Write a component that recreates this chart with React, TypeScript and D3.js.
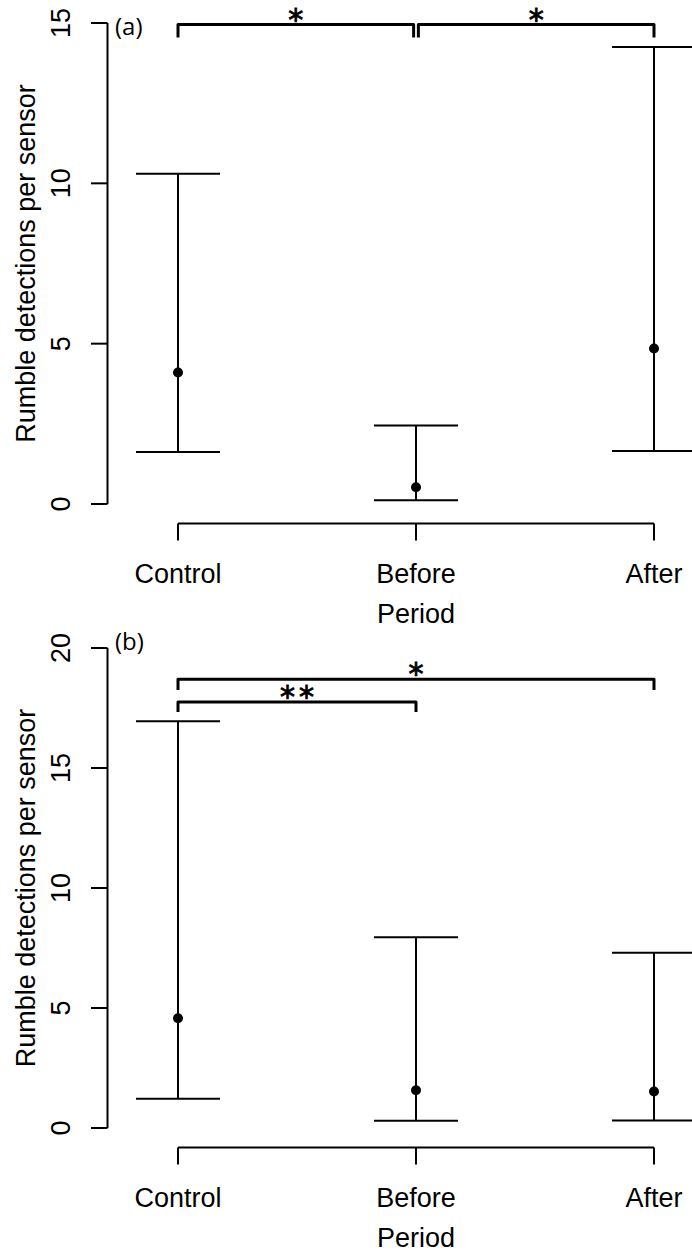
import React from "react";
import * as d3 from "d3";

const periods = ["Control", "Before", "After"];

const meanA = [4.1, 0.52, 4.85];
const lowerA = [1.62, 0.12, 1.65];
const upperA = [10.3, 2.45, 14.25];
const ticksA = [0, 5, 10, 15];

const meanB = [4.57, 1.57, 1.52];
const lowerB = [1.22, 0.3, 0.31];
const upperB = [16.95, 7.95, 7.3];
const ticksB = [0, 5, 10, 15, 20];

const bracketsA = [
  { from: 0, to: 0.99, level: 14.95, drop: 0.4, label: "*" },
  { from: 1.01, to: 2, level: 14.95, drop: 0.4, label: "*" },
];
const bracketsB = [
  { from: 0, to: 2, level: 18.7, drop: 0.45, label: "*" },
  { from: 0, to: 1, level: 17.75, drop: 0.42, label: "**" },
];

const W = 692;
const H = 1254;
const SANS = "'Liberation Sans', Arial, Helvetica, sans-serif";
const ALT = "'Open Sans', 'Noto Sans', sans-serif";
const STAR = "'DejaVu Sans', sans-serif";

type PanelProps = {
  tag: string;
  mean: number[];
  lower: number[];
  upper: number[];
  ticks: number[];
  brackets: { from: number; to: number; level: number; drop: number; label: string }[];
  top: number;
  bottom: number;
  tagDy: number;
};

function Panel({ tag, mean, lower, upper, ticks, brackets, top, bottom, tagDy }: PanelProps) {
  const x = d3.scaleLinear().domain([0, periods.length - 1]).range([178, 654]);
  const y = d3.scaleLinear().domain([0, d3.max(ticks) as number]).range([bottom, top]);
  const axisX = 107.5;
  const capHalf = 42;
  const xAxisY = y(0) + 19.5;
  const bracketPath = (b: PanelProps["brackets"][number]) => {
    const p = d3.path();
    p.moveTo(x(b.from), y(b.level - b.drop));
    p.lineTo(x(b.from), y(b.level));
    p.lineTo(x(b.to), y(b.level));
    p.lineTo(x(b.to), y(b.level - b.drop));
    return p.toString();
  };
  const yMid = (y(0) + y(d3.max(ticks) as number)) / 2;
  return (
    <g>
      {/* y axis */}
      <line x1={axisX} x2={axisX} y1={y(ticks[0])} y2={y(ticks[ticks.length - 1])} stroke="#000" strokeWidth={2} />
      {ticks.map((t) => (
        <g key={t}>
          <line x1={axisX - 16.5} x2={axisX} y1={y(t)} y2={y(t)} stroke="#000" strokeWidth={2} />
          <text
            transform={`translate(70,${y(t)}) rotate(-90)`}
            textAnchor="middle"
            fontFamily={SANS}
            fontSize={27}
          >
            {t}
          </text>
        </g>
      ))}
      <text
        transform={`translate(35,${yMid}) rotate(-90)`}
        textAnchor="middle"
        fontFamily={SANS}
        fontSize={27}
      >
        Rumble detections per sensor
      </text>
      <text x={115} y={y(d3.max(ticks) as number) + tagDy} fontFamily={ALT} fontSize={24}>
        {tag}
      </text>

      {/* x axis */}
      <line x1={x(0)} x2={x(periods.length - 1)} y1={xAxisY} y2={xAxisY} stroke="#000" strokeWidth={2} />
      {periods.map((p, i) => (
        <g key={p}>
          <line x1={x(i)} x2={x(i)} y1={xAxisY} y2={xAxisY + 17} stroke="#000" strokeWidth={2} />
          <text x={x(i)} y={y(0) + 79} textAnchor="middle" fontFamily={SANS} fontSize={27}>
            {p}
          </text>
        </g>
      ))}
      <text x={x(1)} y={y(0) + 119} textAnchor="middle" fontFamily={SANS} fontSize={27}>
        Period
      </text>

      {/* error bars */}
      {periods.map((p, i) => (
        <g key={"eb" + p}>
          <line x1={x(i)} x2={x(i)} y1={y(lower[i])} y2={y(upper[i])} stroke="#000" strokeWidth={2} />
          <line x1={x(i) - capHalf} x2={x(i) + capHalf} y1={y(upper[i])} y2={y(upper[i])} stroke="#000" strokeWidth={2} />
          <line x1={x(i) - capHalf} x2={x(i) + capHalf} y1={y(lower[i])} y2={y(lower[i])} stroke="#000" strokeWidth={2} />
          <circle cx={x(i)} cy={y(mean[i])} r={5} fill="#000" />
        </g>
      ))}

      {/* significance brackets */}
      {brackets.map((b, k) => (
        <g key={"br" + k}>
          <path d={bracketPath(b)} fill="none" stroke="#000" strokeWidth={3} strokeLinejoin="round" />
          <text
            x={(x(b.from) + x(b.to)) / 2 + (b.label.length > 1 ? 2 : 0)}
            y={y(b.level) + 5}
            textAnchor="middle"
            fontFamily={STAR}
            fontSize={30}
            stroke="#000"
            strokeWidth={0.9}
            letterSpacing={b.label.length > 1 ? 4 : 0}
          >
            {b.label}
          </text>
        </g>
      ))}
    </g>
  );
}

export default function App() {
  return (
    <svg
      width={W}
      height={H}
      viewBox={`0 0 ${W} ${H}`}
      style={{ position: "absolute", left: 0, top: 0, background: "#fff" }}
    >
      <rect width={W} height={H} fill="#fff" />
      <Panel
        tag="(a)"
        mean={meanA}
        lower={lowerA}
        upper={upperA}
        ticks={ticksA}
        brackets={bracketsA}
        top={23}
        bottom={504}
        tagDy={12}
      />
      <Panel
        tag="(b)"
        mean={meanB}
        lower={lowerB}
        upper={upperB}
        ticks={ticksB}
        brackets={bracketsB}
        top={648}
        bottom={1128}
        tagDy={2}
      />
    </svg>
  );
}
